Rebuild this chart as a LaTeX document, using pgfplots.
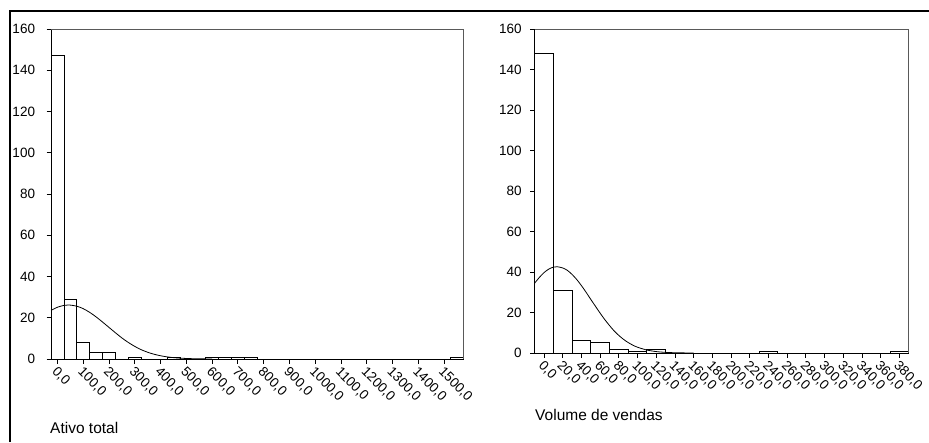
\documentclass[border=0pt]{standalone}
\usepackage{fontspec}
\setmainfont{Liberation Sans}
\usepackage{pgfplots}
\pgfplotsset{compat=1.18}
\pgfplotsset{
  hist/.style={
    scale only axis,
    axis x line*=bottom, axis y line*=left,
    axis line style={-, line width=0.9pt},
    ymin=0, ymax=160, ytick={0,20,...,160},
    tick align=outside, major tick length=4.5pt,
    xtick pos=bottom, ytick pos=left,
    every tick/.style={black, line width=0.8pt},
    tick label style={font=\fontsize{13.5}{14}\selectfont},
    /pgf/number format/assume math mode=true,
    xticklabel style={rotate=-45, anchor=north west, inner sep=1pt, xshift=1pt},
    clip=false,
  },
  bars/.style={ybar, fill=white, draw=black, line width=0.8pt},
  curve/.style={black, line width=0.8pt, smooth},
}
\begin{document}
\begin{tikzpicture}
\path[use as bounding box] (0pt,0pt) rectangle (929pt,442pt);
\draw[line width=1.2pt] (10pt,0pt) -- (10pt,431pt) -- (929pt,431pt);

% Ativo total
\begin{axis}[hist, at={(57.5pt,83pt)}, anchor=origin,
  width=412.3pt, height=330pt,
  xmin=-25, xmax=1575,
  yticklabel style={xshift=-8pt},
  xtick={0,100,...,1500},
  xticklabels={{0,0},{100,0},{200,0},{300,0},{400,0},{500,0},{600,0},{700,0},
    {800,0},{900,0},{1000,0},{1100,0},{1200,0},{1300,0},{1400,0},{1500,0}},
  ]
  \addplot[bars, bar width=50] coordinates {
    (0,147) (50,29) (100,8) (150,3) (200,3) (300,1) (450,1)
    (600,1) (650,1) (700,1) (750,1) (1550,1)};
  \addplot[curve] coordinates {
    (-25,23.6) (0,25.1) (25,26.0) (44,26.2) (75,25.6) (100,24.4) (125,22.6)
    (150,20.4) (175,17.9) (200,15.3) (225,12.7) (250,10.2) (275,8.0)
    (300,6.1) (325,4.5) (350,3.27) (375,2.30) (400,1.57) (425,1.04)
    (450,0.67) (475,0.42) (500,0.26) (525,0.15) (550,0.09) (575,0.05) (600,0.03)};
  \draw[gray!70!black, line width=0.7pt] (rel axis cs:0,1) -- (rel axis cs:1,1) -- (rel axis cs:1,0);
\end{axis}

% Volume de vendas
\begin{axis}[hist, at={(544pt,89pt)}, anchor=origin,
  width=374pt, height=324pt,
  xmin=-10, xmax=390,
  yticklabel style={xshift=-5pt},
  xtick={0,20,...,380},
  xticklabels={{0,0},{20,0},{40,0},{60,0},{80,0},{100,0},{120,0},{140,0},{160,0},
    {180,0},{200,0},{220,0},{240,0},{260,0},{280,0},{300,0},{320,0},{340,0},
    {360,0},{380,0}},
  ]
  \addplot[bars, bar width=20] coordinates {
    (0,148) (20,31) (40,6) (60,5) (80,2) (100,1) (120,2) (240,1) (380,1)};
  \addplot[curve] coordinates {
    (-10,34.5) (-5,37.3) (0,39.7) (5,41.4) (10,42.4) (14,42.6) (20,42.0)
    (25,40.8) (30,38.8) (35,36.3) (40,33.3) (45,30.0) (50,26.5) (55,23.1)
    (60,19.7) (65,16.5) (70,13.6) (75,10.9) (80,8.68) (85,6.76) (90,5.17)
    (95,3.88) (100,2.86) (110,1.47) (120,0.70) (130,0.31) (140,0.13)
    (150,0.05) (160,0.02)};
  \draw[gray!70!black, line width=0.7pt] (rel axis cs:0,1) -- (rel axis cs:1,1) -- (rel axis cs:1,0);
\end{axis}

\node[anchor=west, font=\fontsize{15.5}{16}\selectfont, inner sep=0pt] at (50pt,14pt) {Ativo total};
\node[anchor=west, font=\fontsize{15.5}{16}\selectfont, inner sep=0pt] at (535pt,27pt) {Volume de vendas};
\end{tikzpicture}
\end{document}
